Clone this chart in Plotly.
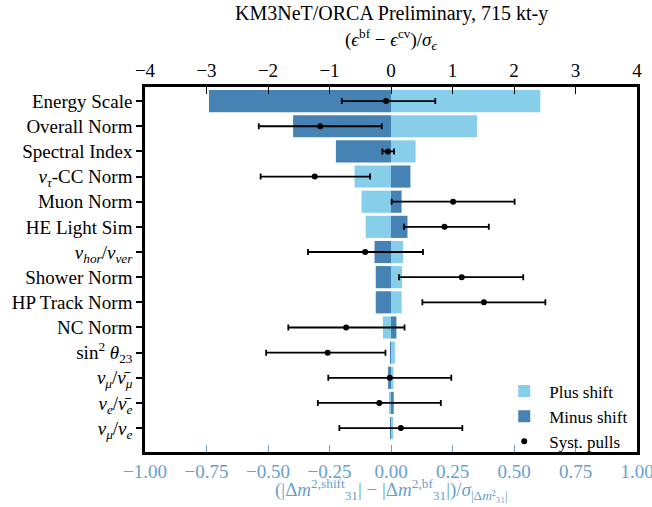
import plotly.graph_objects as go

# Nuisance parameters, top to bottom
params = [
    "Energy Scale",
    "Overall Norm",
    "Spectral Index",
    "<i>ν<sub>τ</sub></i>-CC Norm",
    "Muon Norm",
    "HE Light Sim",
    "<i>ν<sub>hor</sub></i>/<i>ν<sub>ver</sub></i>",
    "Shower Norm",
    "HP Track Norm",
    "NC Norm",
    "sin<sup>2</sup> <i>θ</i><sub>23</sub>",
    "<i>ν<sub>μ</sub></i>/<i>ν̄<sub>μ</sub></i>",
    "<i>ν<sub>e</sub></i>/<i>ν̄<sub>e</sub></i>",
    "<i>ν<sub>μ</sub></i>/<i>ν<sub>e</sub></i>",
]

# Impact on |Δm²31| for +1σ / −1σ shifts of each parameter
plus_shift = [0.607, 0.350, 0.100, -0.148, -0.120, -0.103, 0.049, 0.045, 0.043,
              -0.033, 0.016, 0.010, -0.005, 0.009]
minus_shift = [-0.740, -0.398, -0.224, 0.079, 0.043, 0.067, -0.067, -0.062, -0.062,
               0.022, -0.004, -0.012, 0.011, -0.003]

# Systematic pulls (ε_bf − ε_cv)/σ_ε with their uncertainties
pull = [-0.08, -1.15, -0.05, -1.24, 1.01, 0.87, -0.42, 1.15, 1.51, -0.73,
        -1.03, -0.02, -0.19, 0.16]
pull_err_lo = [0.72, 1.00, 0.09, 0.88, 1.00, 0.66, 0.93, 1.02, 1.00, 0.94,
               1.00, 1.00, 1.00, 1.00]
pull_err_hi = [0.80, 1.00, 0.10, 0.90, 1.00, 0.72, 0.94, 1.00, 1.00, 0.95,
               0.94, 1.00, 1.00, 1.00]

bottom_ticks = [-1.0, -0.75, -0.5, -0.25, 0.0, 0.25, 0.5, 0.75, 1.0]
top_ticks = [-4, -3, -2, -1, 0, 1, 2, 3, 4]

LIGHT = "#87CEEB"
DARK = "#4682B4"
AXIS_BLUE = "#6a9fcb"
FONT = "Liberation Serif"

fig = go.Figure()

fig.add_trace(go.Bar(
    y=params, x=plus_shift, orientation="h", base=0, width=0.88,
    marker=dict(color=LIGHT, line=dict(width=0)),
    name="Plus shift", xaxis="x", yaxis="y",
))
fig.add_trace(go.Bar(
    y=params, x=minus_shift, orientation="h", base=0, width=0.88,
    marker=dict(color=DARK, line=dict(width=0)),
    name="Minus shift", xaxis="x", yaxis="y",
))
fig.add_trace(go.Scatter(
    y=params, x=pull, mode="markers",
    marker=dict(color="black", size=6),
    error_x=dict(type="data", array=pull_err_hi, arrayminus=pull_err_lo,
                 color="black", thickness=1.8, width=3),
    name="Syst. pulls", xaxis="x2", yaxis="y",
))

fig.update_layout(
    width=652, height=507,
    margin=dict(l=145, r=15, t=87, b=55),
    paper_bgcolor="white", plot_bgcolor="white",
    barmode="overlay",
    font=dict(family=FONT, size=19, color="black"),
    showlegend=True,
    legend=dict(x=0.72, y=0.215, xanchor="left", yanchor="top",
                bgcolor="rgba(0,0,0,0)", borderwidth=0,
                font=dict(size=17), tracegroupgap=0, itemwidth=40),
    xaxis=dict(
        range=[-1, 1], tickvals=bottom_ticks, tickformat=".2f",
        ticks="inside", ticklen=7, tickwidth=1.2, tickcolor=AXIS_BLUE,
        tickfont=dict(color=AXIS_BLUE, size=19), ticklabeloverflow="allow",
        showline=True, linecolor="black", linewidth=2.5,
        showgrid=False, zeroline=False, automargin=False,
    ),
    xaxis2=dict(
        range=[-4, 4], tickvals=top_ticks, overlaying="x", side="top",
        ticks="inside", ticklen=7, tickwidth=1.2, tickcolor="black",
        tickfont=dict(color="black", size=19), ticklabeloverflow="allow",
        showline=True, linecolor="black", linewidth=2.5,
        showgrid=False, zeroline=False, automargin=False,
    ),
    yaxis=dict(
        type="category", categoryorder="array", categoryarray=params,
        range=[13.95, -0.56],
        ticks="outside", ticklen=6, tickwidth=1.5, tickcolor="black",
        tickfont=dict(size=19),
        showline=True, linecolor="black", linewidth=2.5, mirror=True,
        showgrid=False, zeroline=False, automargin=False,
    ),
    annotations=[
        dict(text="KM3NeT/ORCA Preliminary, 715 kt-y", xref="paper", yref="paper",
             x=0.5, y=1.0, yshift=74, showarrow=False, yanchor="middle",
             font=dict(size=20)),
        dict(text="(<i>ϵ</i><sup>bf</sup> − <i>ϵ</i><sup>cv</sup>)/<i>σ</i><sub><i>ϵ</i></sub>",
             xref="paper", yref="paper", x=0.5, y=1.0, yshift=48,
             showarrow=False, yanchor="middle", font=dict(size=19)),
        dict(text="(|Δ<i>m</i><sup>2,shift</sup><sub>31</sub>| − |Δ<i>m</i><sup>2,bf</sup><sub>31</sub>|)/<i>σ</i><sub>|Δ<i>m</i>²₃₁|</sub>",
             xref="paper", yref="paper", x=0.5, y=0.0, yshift=-37,
             showarrow=False, yanchor="middle",
             font=dict(size=19, color=AXIS_BLUE)),
    ],
)

fig.write_html("out.html")
